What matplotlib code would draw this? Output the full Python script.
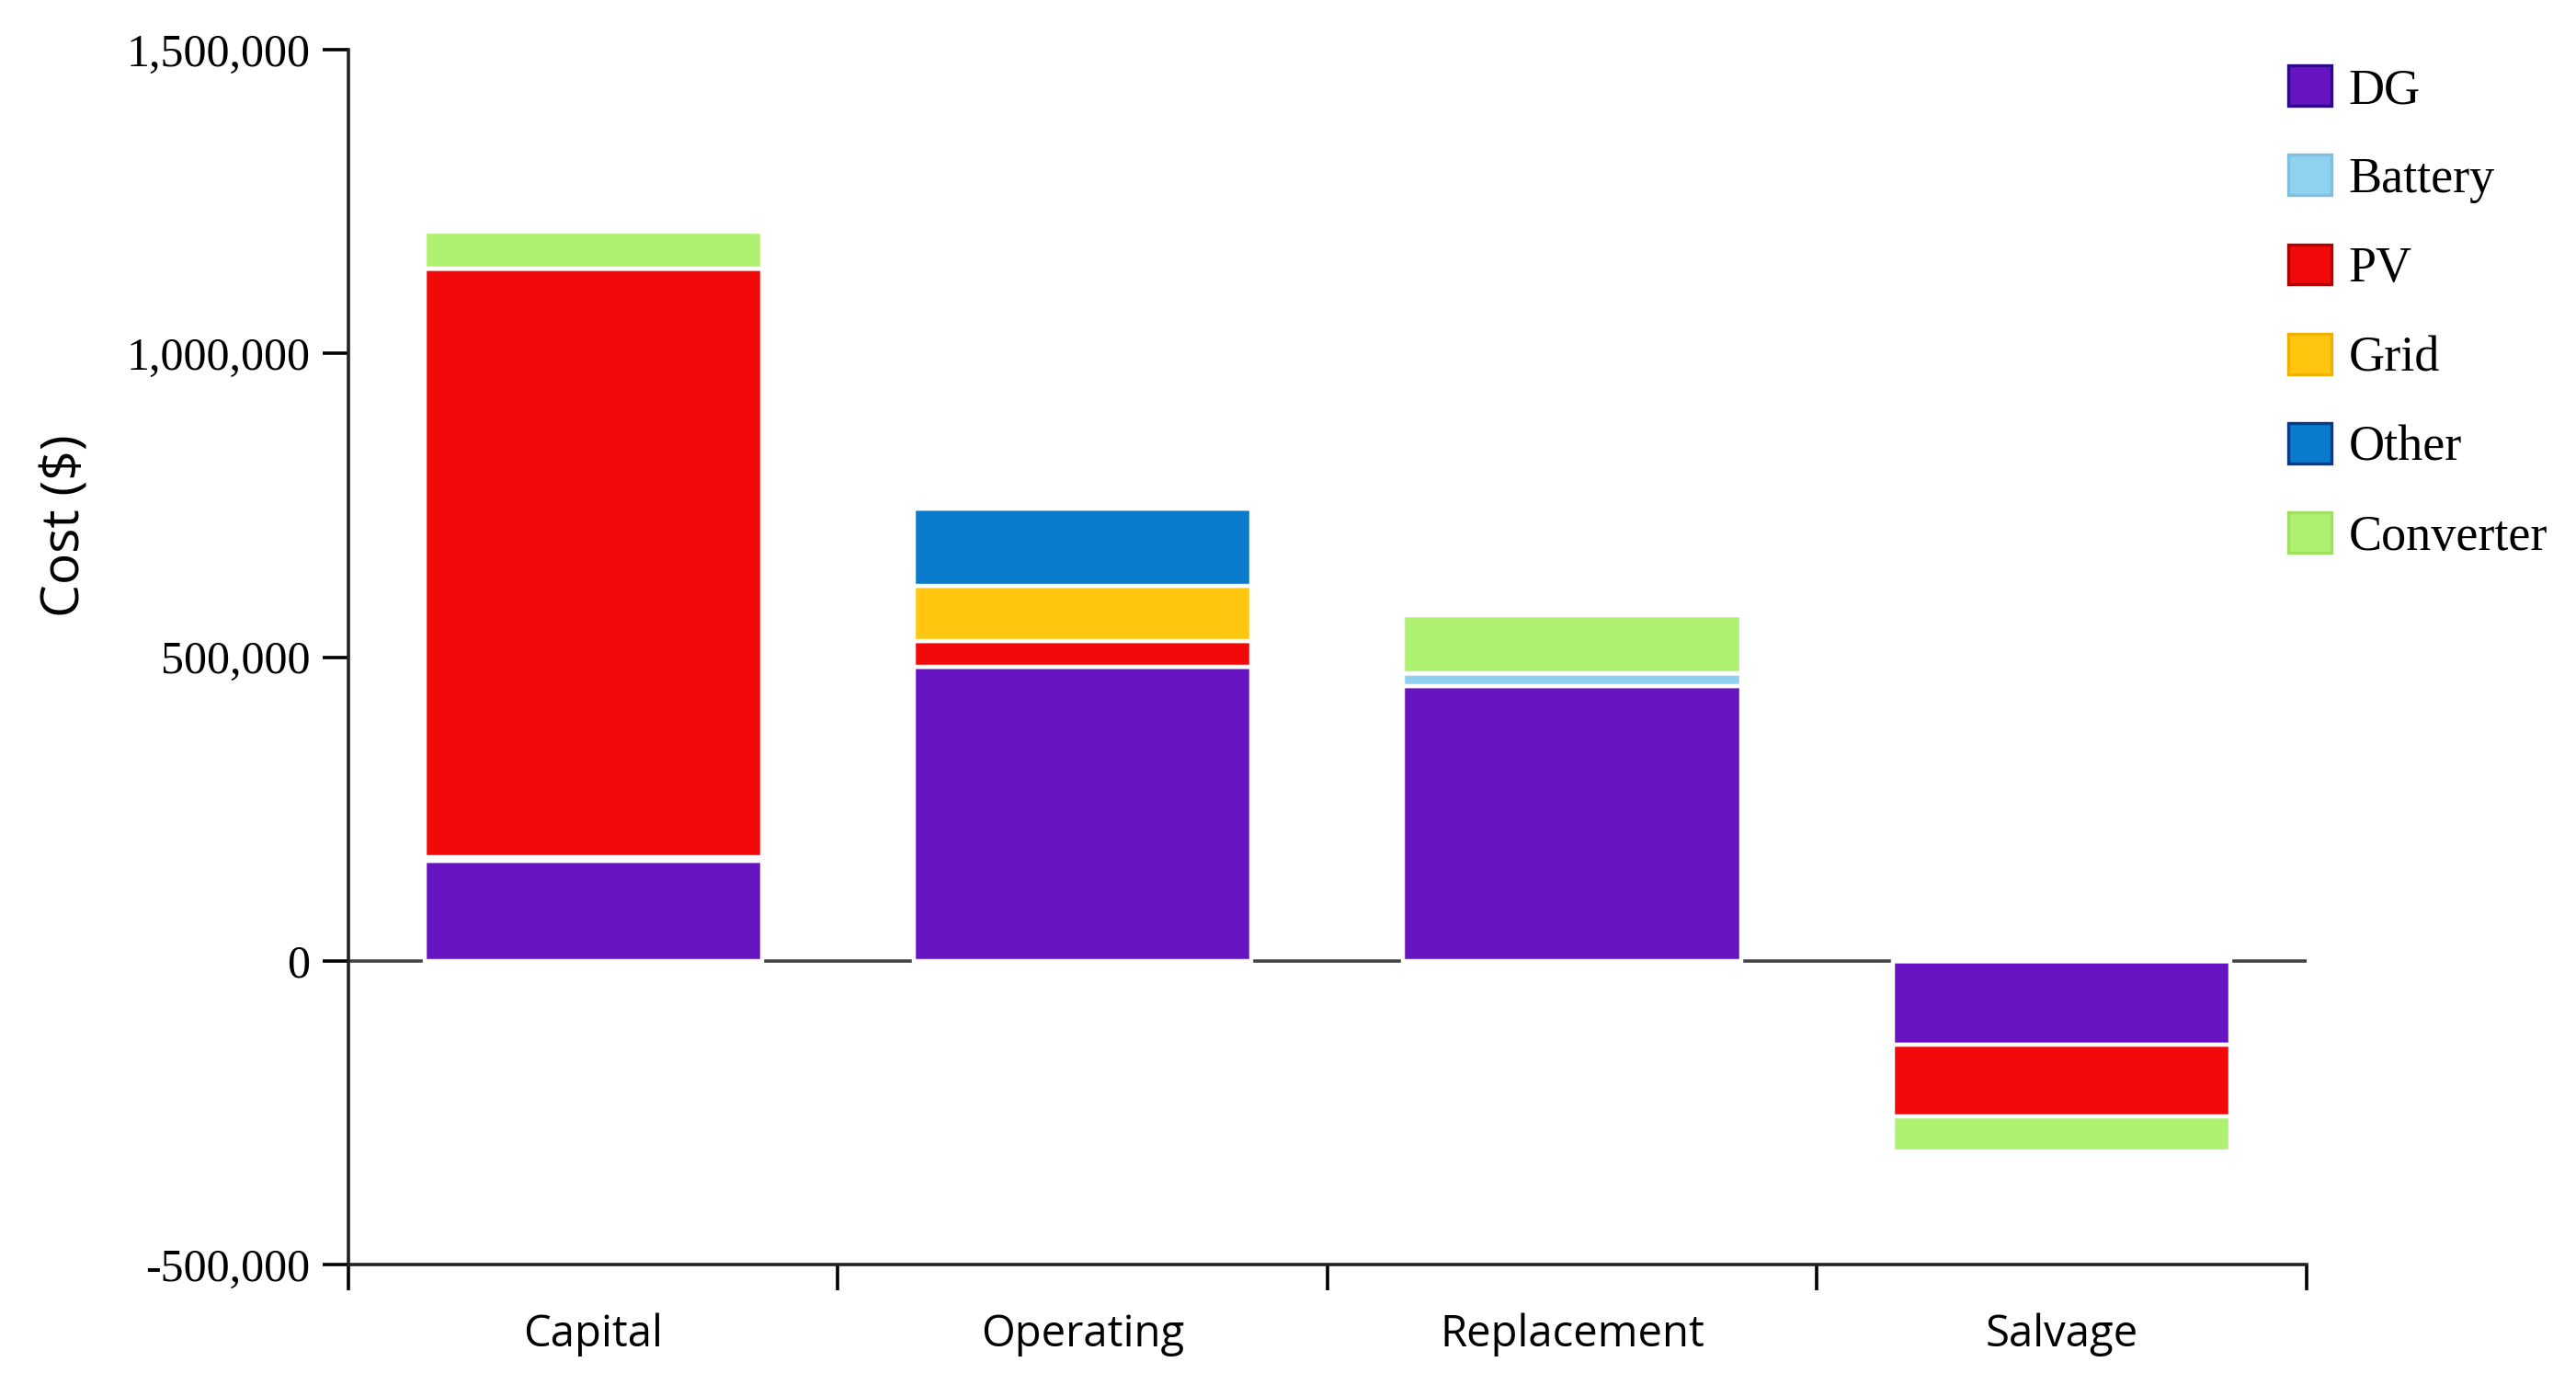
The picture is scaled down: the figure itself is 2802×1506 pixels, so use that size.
import matplotlib
matplotlib.use("Agg")
import matplotlib.pyplot as plt
import numpy as np
from matplotlib.patches import Patch

categories = ["Capital", "Operating", "Replacement", "Salvage"]
series_names = ["DG", "Battery", "PV", "Grid", "Other", "Converter"]
dg = [165000, 484000, 452000, -139000]
battery = [5000, 0, 21000, 0]
pv = [970000, 42000, 0, -117000]
grid = [0, 92000, 0, 0]
other = [0, 127000, 0, 0]
converter = [60000, 0, 96000, -58000]
yticks = [-500000, 0, 500000, 1000000, 1500000]
ytick_labels = ["-500,000", "0", "500,000", "1,000,000", "1,500,000"]

colors = {"DG": "#6614C2", "Battery": "#8FD2F0", "PV": "#F20A0A",
          "Grid": "#FFC60F", "Other": "#0A7ACB", "Converter": "#AEF070"}
edges = {"DG": "#2A0A8A", "Battery": "#7FBFE0", "PV": "#B00000",
         "Grid": "#F0B000", "Other": "#083A8A", "Converter": "#9EE060"}

fig = plt.figure(figsize=(14.01, 7.53), dpi=200)
ax = fig.add_axes([0.1353, 0.0871, 0.7600, 0.8769])

x = np.arange(len(categories))
width = 0.69
pos_base = np.zeros(len(categories))
neg_base = np.zeros(len(categories))
data = [dg, battery, pv, grid, other, converter]
for name, vals in zip(series_names, data):
    vals = np.array(vals, dtype=float)
    bottoms = np.where(vals >= 0, pos_base, neg_base)
    ax.bar(x, vals, width, bottom=bottoms, color=colors[name],
           edgecolor="white", linewidth=1.6, label=name, zorder=3)
    pos_base += np.where(vals > 0, vals, 0)
    neg_base += np.where(vals < 0, vals, 0)

ax.axhline(0, color="#444444", linewidth=1.3, zorder=2)

ax.set_xlim(-0.5, len(categories) - 0.5)
ax.set_ylim(-500000, 1500000)
ax.set_yticks(yticks)
ax.set_yticklabels(ytick_labels, family="Liberation Serif", fontsize=18)
ax.tick_params(axis="y", direction="out", length=10, width=1.3, pad=5, colors="black")

ax.set_xticks(x)
ax.set_xticklabels(categories, family="Open Sans", fontsize=17)
ax.tick_params(axis="x", which="major", length=0, pad=19)
ax.set_xticks(np.arange(-0.5, len(categories)), minor=True)
ax.tick_params(axis="x", which="minor", direction="out", length=10, width=1.3)

for s in ["top", "right"]:
    ax.spines[s].set_visible(False)
for s in ["left", "bottom"]:
    ax.spines[s].set_linewidth(1.3)
    ax.spines[s].set_color("#222222")

ax.set_ylabel("Cost ($)", family="Open Sans", fontsize=20.5)
ax.yaxis.set_label_coords(-0.131, 0.608)

leg_handles = [Patch(facecolor=colors[n], edgecolor=edges[n], linewidth=1.2) for n in series_names]
fig.legend(leg_handles, series_names, loc="upper left", bbox_to_anchor=(0.8805, 0.967),
           frameon=False, prop={"family": "Liberation Serif", "size": 19.5},
           handlelength=0.87, handleheight=0.87, labelspacing=0.82, handletextpad=0.35,
           borderaxespad=0)

fig.savefig("out.png", dpi=200)
